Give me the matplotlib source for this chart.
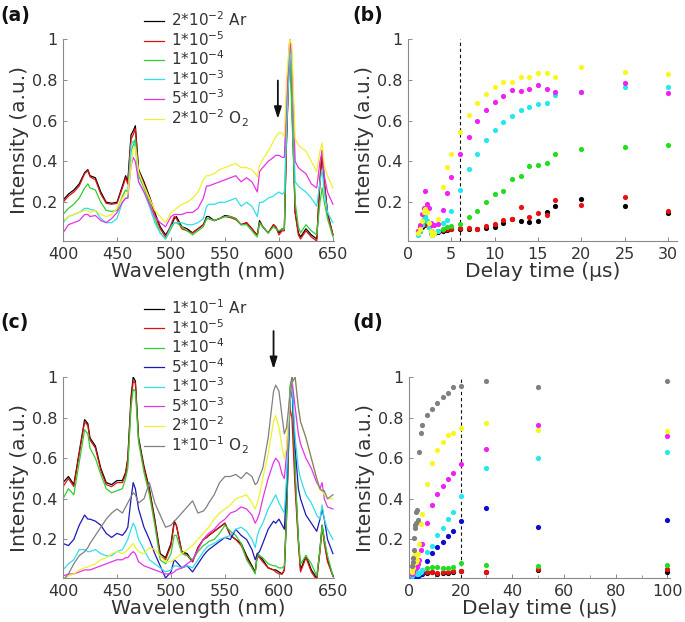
import matplotlib
matplotlib.use("Agg")
from matplotlib import pyplot as plt
from matplotlib.ticker import MultipleLocator

plt.rcParams['font.family'] = ['DejaVu Sans']
plt.rcParams['mathtext.default'] = 'regular'

# wavelength grid (nm) shared by the spectra
wl = [400, 405, 410, 415, 420, 423, 425, 430, 435, 440,
      445, 450, 455, 458, 460, 463, 465, 467, 470, 475,
      480, 485, 490, 495, 500, 503, 505, 510, 515, 520,
      525, 530, 533, 535, 540, 545, 550, 555, 560, 565,
      570, 575, 578, 580, 582, 585, 590, 595, 597, 600,
      603, 605, 607, 610, 612, 615, 618, 620, 625, 630,
      635, 638, 640, 642, 645, 650]

# panel (a) spectra
a_ar = [0.21, 0.24, 0.26, 0.29, 0.345, 0.36, 0.33, 0.32, 0.25, 0.20,
        0.195, 0.20, 0.28, 0.33, 0.30, 0.53, 0.55, 0.575, 0.36, 0.30,
        0.23, 0.15, 0.08, 0.04, 0.08, 0.12, 0.13, 0.08, 0.07, 0.05,
        0.07, 0.09, 0.13, 0.13, 0.11, 0.12, 0.135, 0.13, 0.12, 0.09,
        0.10, 0.07, 0.05, 0.04, 0.11, 0.08, 0.05, 0.09, 0.08, 0.05,
        0.07, 0.07, 0.50, 0.97, 0.70, 0.15, 0.05, 0.03, 0.07, 0.04,
        0.02, 0.30, 0.44, 0.30, 0.15, 0.04]
a_1e5 = [0.20, 0.23, 0.25, 0.28, 0.34, 0.355, 0.325, 0.31, 0.24, 0.195,
         0.19, 0.195, 0.27, 0.32, 0.29, 0.51, 0.53, 0.56, 0.35, 0.29,
         0.22, 0.14, 0.07, 0.03, 0.09, 0.13, 0.12, 0.07, 0.06, 0.05,
         0.07, 0.09, 0.12, 0.12, 0.11, 0.12, 0.13, 0.125, 0.115, 0.09,
         0.10, 0.07, 0.05, 0.04, 0.10, 0.08, 0.05, 0.09, 0.08, 0.04,
         0.06, 0.06, 0.50, 1.00, 0.72, 0.15, 0.04, 0.02, 0.06, 0.03,
         0.01, 0.32, 0.455, 0.30, 0.14, 0.04]
a_1e4 = [0.14, 0.17, 0.19, 0.22, 0.27, 0.29, 0.27, 0.26, 0.20, 0.16,
         0.155, 0.16, 0.23, 0.26, 0.25, 0.45, 0.48, 0.51, 0.33, 0.27,
         0.20, 0.12, 0.05, 0.02, 0.07, 0.10, 0.10, 0.08, 0.06, 0.04,
         0.06, 0.08, 0.12, 0.12, 0.11, 0.12, 0.13, 0.13, 0.12, 0.09,
         0.09, 0.06, 0.04, 0.03, 0.10, 0.08, 0.05, 0.08, 0.07, 0.06,
         0.07, 0.07, 0.60, 0.97, 0.62, 0.20, 0.08, 0.05, 0.09, 0.06,
         0.04, 0.20, 0.27, 0.20, 0.12, 0.03]
a_1e3 = [0.10, 0.13, 0.14, 0.15, 0.17, 0.17, 0.165, 0.16, 0.12, 0.10,
         0.10, 0.12, 0.20, 0.22, 0.22, 0.48, 0.50, 0.47, 0.30, 0.25,
         0.18, 0.10, 0.05, 0.02, 0.08, 0.10, 0.10, 0.10, 0.09, 0.09,
         0.10, 0.12, 0.18, 0.19, 0.19, 0.20, 0.20, 0.21, 0.22, 0.18,
         0.20, 0.18, 0.15, 0.13, 0.20, 0.20, 0.22, 0.23, 0.24, 0.25,
         0.24, 0.25, 0.55, 0.95, 0.85, 0.30, 0.28, 0.27, 0.25, 0.22,
         0.18, 0.30, 0.36, 0.25, 0.15, 0.10]
a_5e3 = [0.05, 0.09, 0.10, 0.11, 0.14, 0.14, 0.13, 0.135, 0.11, 0.10,
         0.12, 0.15, 0.20, 0.22, 0.22, 0.38, 0.42, 0.40, 0.30, 0.25,
         0.19, 0.13, 0.10, 0.08, 0.13, 0.14, 0.14, 0.14, 0.15, 0.15,
         0.17, 0.22, 0.28, 0.28, 0.29, 0.30, 0.31, 0.32, 0.33, 0.30,
         0.32, 0.30, 0.27, 0.25, 0.35, 0.37, 0.40, 0.42, 0.43, 0.43,
         0.42, 0.42, 0.70, 1.00, 0.92, 0.40, 0.37, 0.36, 0.34, 0.29,
         0.27, 0.40, 0.45, 0.33, 0.25, 0.19]
a_o2 = [0.11, 0.13, 0.14, 0.15, 0.16, 0.16, 0.15, 0.16, 0.14, 0.13,
        0.14, 0.17, 0.22, 0.24, 0.24, 0.38, 0.46, 0.47, 0.35, 0.28,
        0.22, 0.16, 0.13, 0.10, 0.15, 0.16, 0.17, 0.19, 0.20, 0.22,
        0.25, 0.31, 0.33, 0.33, 0.34, 0.36, 0.37, 0.38, 0.39, 0.37,
        0.37, 0.36, 0.34, 0.325, 0.38, 0.41, 0.45, 0.50, 0.52, 0.54,
        0.54, 0.52, 0.80, 1.00, 0.97, 0.51, 0.48, 0.47, 0.45, 0.40,
        0.35, 0.45, 0.49, 0.38, 0.33, 0.27]

# panel (c) spectra
c_ar = [0.48, 0.51, 0.47, 0.63, 0.79, 0.77, 0.70, 0.66, 0.55, 0.48,
        0.47, 0.49, 0.49, 0.53, 0.60, 0.90, 1.00, 0.98, 0.70, 0.56,
        0.45, 0.30, 0.13, 0.11, 0.18, 0.29, 0.27, 0.14, 0.13, 0.09,
        0.16, 0.20, 0.21, 0.22, 0.24, 0.26, 0.28, 0.22, 0.20, 0.18,
        0.12, 0.07, 0.04, 0.13, 0.12, 0.10, 0.06, 0.05, 0.05, 0.04,
        0.03, 0.05, 0.30, 0.85, 1.00, 0.50, 0.20, 0.05, 0.12, 0.05,
        0.01, 0.15, 0.27, 0.20, 0.10, 0.02]
c_1e5 = [0.46, 0.50, 0.46, 0.62, 0.78, 0.76, 0.69, 0.65, 0.54, 0.47,
         0.46, 0.48, 0.48, 0.52, 0.59, 0.88, 0.98, 0.97, 0.69, 0.55,
         0.44, 0.29, 0.12, 0.10, 0.17, 0.28, 0.27, 0.14, 0.12, 0.09,
         0.16, 0.20, 0.21, 0.22, 0.24, 0.26, 0.28, 0.22, 0.20, 0.17,
         0.11, 0.06, 0.04, 0.12, 0.11, 0.09, 0.06, 0.05, 0.04, 0.03,
         0.03, 0.05, 0.35, 0.85, 0.80, 0.45, 0.18, 0.04, 0.11, 0.04,
         0.00, 0.14, 0.26, 0.18, 0.09, 0.02]
c_1e4 = [0.40, 0.45, 0.42, 0.58, 0.74, 0.72, 0.65, 0.60, 0.52, 0.45,
         0.43, 0.44, 0.45, 0.50, 0.55, 0.85, 0.94, 0.93, 0.68, 0.53,
         0.42, 0.27, 0.10, 0.08, 0.13, 0.22, 0.22, 0.13, 0.12, 0.10,
         0.14, 0.17, 0.18, 0.19, 0.20, 0.23, 0.27, 0.24, 0.22, 0.18,
         0.10, 0.06, 0.03, 0.13, 0.12, 0.11, 0.08, 0.07, 0.07, 0.06,
         0.06, 0.07, 0.30, 0.95, 1.00, 0.55, 0.20, 0.08, 0.12, 0.08,
         0.02, 0.15, 0.27, 0.20, 0.12, 0.02]
c_5e4 = [0.18, 0.17, 0.20, 0.27, 0.32, 0.30, 0.30, 0.29, 0.27, 0.23,
         0.21, 0.23, 0.22, 0.24, 0.26, 0.40, 0.48, 0.45, 0.35, 0.26,
         0.20, 0.13, 0.07, 0.01, 0.04, 0.10, 0.09, 0.06, 0.07, 0.04,
         0.08, 0.12, 0.14, 0.15, 0.17, 0.19, 0.21, 0.20, 0.25, 0.22,
         0.20, 0.15, 0.10, 0.13, 0.14, 0.18, 0.25, 0.29, 0.28, 0.30,
         0.27, 0.25, 0.45, 0.85, 0.97, 0.65, 0.45, 0.40, 0.32, 0.28,
         0.24, 0.30, 0.35, 0.30, 0.20, 0.13]
c_1e3 = [0.05, 0.08, 0.10, 0.15, 0.15, 0.14, 0.14, 0.15, 0.13, 0.12,
         0.12, 0.14, 0.15, 0.18, 0.20, 0.25, 0.28, 0.26, 0.20, 0.15,
         0.10, 0.08, 0.06, 0.04, 0.05, 0.07, 0.07, 0.06, 0.07, 0.06,
         0.10, 0.14, 0.16, 0.17, 0.18, 0.20, 0.21, 0.22, 0.25, 0.26,
         0.24, 0.20, 0.16, 0.22, 0.25, 0.28, 0.35, 0.40, 0.42, 0.38,
         0.35, 0.33, 0.50, 0.85, 0.98, 0.70, 0.55, 0.50, 0.42, 0.38,
         0.32, 0.30, 0.37, 0.30, 0.25, 0.20]
c_5e3 = [0.02, 0.03, 0.03, 0.04, 0.05, 0.05, 0.05, 0.06, 0.07, 0.08,
         0.09, 0.10, 0.10, 0.11, 0.11, 0.13, 0.14, 0.13, 0.09, 0.07,
         0.06, 0.05, 0.04, 0.03, 0.03, 0.04, 0.05, 0.06, 0.08, 0.10,
         0.15, 0.20, 0.22, 0.23, 0.25, 0.28, 0.30, 0.33, 0.34, 0.36,
         0.35, 0.32, 0.28, 0.30, 0.33, 0.40, 0.50, 0.58, 0.60, 0.58,
         0.52, 0.50, 0.62, 0.90, 0.99, 0.85, 0.72, 0.67, 0.60, 0.55,
         0.48, 0.45, 0.48, 0.40, 0.36, 0.35]
c_2e2 = [0.00, 0.02, 0.03, 0.05, 0.06, 0.065, 0.07, 0.08, 0.10, 0.11,
         0.13, 0.14, 0.13, 0.14, 0.15, 0.17, 0.18, 0.16, 0.14, 0.13,
         0.16, 0.15, 0.12, 0.09, 0.09, 0.10, 0.11, 0.13, 0.15, 0.17,
         0.20, 0.23, 0.25, 0.26, 0.30, 0.33, 0.35, 0.37, 0.40, 0.41,
         0.42, 0.38, 0.35, 0.38, 0.42, 0.50, 0.62, 0.78, 0.81, 0.75,
         0.65, 0.60, 0.65, 0.90, 0.97, 1.00, 0.85, 0.78, 0.70, 0.60,
         0.50, 0.44, 0.44, 0.42, 0.40, 0.40]
c_o2 = [0.00, 0.03, 0.08, 0.12, 0.14, 0.16, 0.18, 0.22, 0.26, 0.30,
        0.33, 0.35, 0.33, 0.36, 0.38, 0.41, 0.43, 0.42, 0.38, 0.40,
        0.48, 0.38, 0.32, 0.26, 0.27, 0.29, 0.30, 0.33, 0.36, 0.39,
        0.33, 0.34, 0.36, 0.38, 0.42, 0.48, 0.51, 0.51, 0.52, 0.50,
        0.53, 0.51, 0.47, 0.48, 0.51, 0.55, 0.70, 0.93, 0.96, 0.93,
        0.80, 0.72, 0.75, 0.90, 0.97, 1.00, 0.85, 0.78, 0.70, 0.60,
        0.50, 0.45, 0.44, 0.44, 0.40, 0.42]

# panel (b) delay scans
tb = [1.2, 1.4, 1.6, 1.8, 2.0, 2.2, 2.4, 2.6, 2.8, 3.0, 3.5, 4, 4.5, 5,
      6, 7, 8, 9, 10, 11, 12, 13, 14, 15, 16, 17, 20, 25, 30]
b_ar = [0.05, 0.06, 0.08, 0.09, 0.10, 0.10, 0.09, 0.06, 0.05, 0.05, 0.055, 0.06, 0.065, 0.07,
        0.069, 0.07, 0.07, 0.072, 0.077, 0.097, 0.118, 0.11, 0.105, 0.107, 0.153, 0.18, 0.216, 0.18, 0.147]
b_1e5 = [0.06, 0.08, 0.09, 0.10, 0.10, 0.09, 0.08, 0.06, 0.05, 0.05, 0.06, 0.065, 0.07, 0.07,
         0.072, 0.072, 0.07, 0.083, 0.093, 0.113, 0.118, 0.175, 0.13, 0.147, 0.138, 0.213, 0.187, 0.225, 0.159]
b_1e4 = [0.05, 0.07, 0.10, 0.12, 0.13, 0.11, 0.08, 0.05, 0.04, 0.05, 0.06, 0.069, 0.077, 0.082,
         0.093, 0.126, 0.156, 0.203, 0.238, 0.254, 0.315, 0.328, 0.376, 0.384, 0.394, 0.435, 0.46, 0.471, 0.483]
b_1e3 = [0.04, 0.06, 0.09, 0.12, 0.13, 0.11, 0.08, 0.05, 0.04, 0.05, 0.06, 0.097, 0.113, 0.159,
         0.261, 0.361, 0.438, 0.504, 0.556, 0.594, 0.625, 0.652, 0.665, 0.68, 0.685, 0.726, 0.74, 0.763, 0.763]
b_5e3 = [0.06, 0.09, 0.14, 0.17, 0.257, 0.19, 0.172, 0.10, 0.09, 0.09, 0.093, 0.162, 0.246, 0.323,
         0.435, 0.52, 0.596, 0.652, 0.693, 0.721, 0.75, 0.747, 0.754, 0.773, 0.754, 0.742, 0.742, 0.785, 0.734]
b_o2 = [0.05, 0.07, 0.11, 0.15, 0.167, 0.15, 0.10, 0.06, 0.04, 0.05, 0.12, 0.274, 0.372, 0.438,
        0.545, 0.627, 0.688, 0.731, 0.767, 0.79, 0.79, 0.813, 0.813, 0.832, 0.832, 0.813, 0.865, 0.836, 0.829]

# panel (d) delay scans
td = [1.2, 1.4, 1.6, 1.8, 2.0, 2.2, 2.4, 2.6, 2.8, 3.0, 3.5, 4, 4.5, 5,
      7, 9, 11, 13, 15, 17, 20, 30, 50, 100]
d_ar = [0.02, 0.03, 0.03, 0.03, 0.03, 0.03, 0.03, 0.03, 0.03, 0.03, 0.03, 0.03, 0.03, 0.03,
        0.035, 0.038, 0.03, 0.035, 0.033, 0.04, 0.044, 0.04, 0.048, 0.041]
d_1e5 = [0.03, 0.03, 0.04, 0.04, 0.04, 0.04, 0.03, 0.03, 0.03, 0.03, 0.03, 0.03, 0.035, 0.035,
         0.039, 0.042, 0.034, 0.04, 0.04, 0.045, 0.047, 0.042, 0.052, 0.054]
d_1e4 = [0.03, 0.03, 0.04, 0.04, 0.04, 0.03, 0.03, 0.02, 0.02, 0.02, 0.02, 0.03, 0.04, 0.05,
         0.06, 0.063, 0.063, 0.06, 0.058, 0.063, 0.085, 0.076, 0.069, 0.074]
d_5e4 = [0.02, 0.02, 0.03, 0.03, 0.03, 0.03, 0.02, 0.02, 0.02, 0.02, 0.02, 0.025, 0.03, 0.04,
         0.096, 0.132, 0.162, 0.187, 0.216, 0.244, 0.289, 0.355, 0.259, 0.298]
d_1e3 = [0.02, 0.03, 0.04, 0.05, 0.05, 0.05, 0.04, 0.04, 0.035, 0.03, 0.03, 0.035, 0.04, 0.05,
         0.137, 0.17, 0.22, 0.258, 0.302, 0.335, 0.412, 0.552, 0.60, 0.631]
d_5e3 = [0.03, 0.04, 0.05, 0.06, 0.07, 0.075, 0.07, 0.065, 0.06, 0.065, 0.08, 0.10, 0.148, 0.178,
         0.28, 0.368, 0.426, 0.462, 0.5, 0.527, 0.57, 0.643, 0.766, 0.71]
d_2e2 = [0.04, 0.06, 0.08, 0.10, 0.12, 0.13, 0.12, 0.10, 0.09, 0.10, 0.13, 0.178, 0.277, 0.327,
         0.472, 0.574, 0.64, 0.68, 0.714, 0.722, 0.747, 0.771, 0.738, 0.733]
d_o2 = [0.07, 0.09, 0.107, 0.15, 0.208, 0.254, 0.27, 0.28, 0.336, 0.344, 0.298, 0.631, 0.725, 0.762,
        0.812, 0.842, 0.87, 0.9, 0.923, 0.949, 0.957, 0.98, 0.951, 0.98]

labels_a = ['2*10$^{-2}$ Ar', '1*10$^{-5}$', '1*10$^{-4}$', '1*10$^{-3}$',
            '5*10$^{-3}$', '2*10$^{-2}$ O$_2$']
labels_c = ['1*10$^{-1}$ Ar', '1*10$^{-5}$', '1*10$^{-4}$', '5*10$^{-4}$',
            '1*10$^{-3}$', '5*10$^{-3}$', '2*10$^{-2}$', '1*10$^{-1}$ O$_2$']

line_cols_a = ['#000000', '#e01010', '#33cc33', '#33dde8', '#e633e6', '#f0f030']
line_cols_c = ['#000000', '#e01010', '#33cc33', '#1a1ab8', '#33dde8', '#e633e6', '#f0f030', '#808080']
dot_cols_b = ['#000000', '#e81010', '#22dd22', '#22e8f0', '#f020f0', '#f8f820']
dot_cols_d = ['#000000', '#e81010', '#22dd22', '#0a0ad0', '#22e8f0', '#f020f0', '#f8f820', '#808080']

TXT = '#333333'
SPINE = '#8a8a8a'

fig = plt.figure(figsize=(6.85, 6.22), dpi=100)
ax_a = fig.add_axes([0.092, 0.6125, 0.3956, 0.3248])
ax_b = fig.add_axes([0.5956, 0.6125, 0.392, 0.3248])
ax_c = fig.add_axes([0.092, 0.0707, 0.3956, 0.3232])
ax_d = fig.add_axes([0.597, 0.0707, 0.381, 0.3232])


def style(ax):
    for s in ['top', 'right']:
        ax.spines[s].set_visible(False)
    for s in ['left', 'bottom']:
        ax.spines[s].set_color(SPINE)
        ax.spines[s].set_linewidth(0.8)
    ax.tick_params(direction='in', length=3, width=0.7, color=SPINE,
                   labelsize=11.5, labelcolor=TXT, pad=4)
    ax.tick_params(which='minor', direction='in', length=2, width=0.6, color=SPINE)
    ax.set_ylim(0.01, 1.0)
    ax.set_yticks([0.2, 0.4, 0.6, 0.8, 1.0])
    ax.set_yticklabels(['0.2', '0.4', '0.6', '0.8', '1'])
    ax.set_ylabel('Intensity (a.u.)', fontsize=14.5, color=TXT, labelpad=2)


# (a)
for ys, c, lab in zip([a_ar, a_1e5, a_1e4, a_1e3, a_5e3, a_o2], line_cols_a, labels_a):
    ax_a.plot(wl, ys, color=c, lw=0.9, label=lab)
style(ax_a)
ax_a.set_xlim(400, 651)
ax_a.set_xticks([400, 450, 500, 550, 600, 650])
ax_a.set_xlabel('Wavelength (nm)', fontsize=14.5, color=TXT, labelpad=0)
ax_a.annotate('', xy=(599, 0.595), xytext=(599, 0.81),
              arrowprops=dict(arrowstyle='-|>,head_width=0.22,head_length=0.7',
                              color='#111111', lw=1.3))
ax_a.legend(loc='upper left', bbox_to_anchor=(0.30, 1.14), frameon=False,
            fontsize=11, handlelength=1.3, handletextpad=0.45,
            labelspacing=0.05, borderpad=0, borderaxespad=0, labelcolor=TXT)

# (b)
for ys, c in zip([b_ar, b_1e5, b_1e4, b_1e3, b_5e3, b_o2], dot_cols_b):
    ax_b.scatter(tb, ys, s=14, color=c, linewidths=0, zorder=3)
style(ax_b)
ax_b.set_xlim(0, 31)
ax_b.set_xticks([0, 5, 10, 15, 20, 25, 30])
ax_b.axvline(6, color='#111111', ls=(0, (3, 2.5)), lw=0.8)
ax_b.set_xlabel('Delay time (µs)', fontsize=14.5, color=TXT, labelpad=0)

# (c)
for ys, c, lab in zip([c_ar, c_1e5, c_1e4, c_5e4, c_1e3, c_5e3, c_2e2, c_o2], line_cols_c, labels_c):
    ax_c.plot(wl, ys, color=c, lw=0.9, label=lab)
style(ax_c)
ax_c.set_xlim(400, 651)
ax_c.set_xticks([400, 450, 500, 550, 600, 650])
ax_c.set_xlabel('Wavelength (nm)', fontsize=14.5, color=TXT, labelpad=0)
ax_c.annotate('', xy=(595, 1.025), xytext=(595, 1.24), annotation_clip=False,
              arrowprops=dict(arrowstyle='-|>,head_width=0.22,head_length=0.7',
                              color='#111111', lw=1.3))
ax_c.legend(loc='upper left', bbox_to_anchor=(0.30, 1.39), frameon=False,
            fontsize=11, handlelength=1.3, handletextpad=0.45,
            labelspacing=0.05, borderpad=0, borderaxespad=0, labelcolor=TXT)

# (d)
for ys, c in zip([d_ar, d_1e5, d_1e4, d_5e4, d_1e3, d_5e3, d_2e2, d_o2], dot_cols_d):
    ax_d.scatter(td, ys, s=14, color=c, linewidths=0, zorder=3)
style(ax_d)
ax_d.set_xlim(0, 101)
ax_d.set_xticks([0, 20, 40, 60, 80, 100])
ax_d.xaxis.set_minor_locator(MultipleLocator(10))
ax_d.axvline(20, color='#111111', ls=(0, (3, 2.5)), lw=0.8)
ax_d.set_xlabel('Delay time (µs)', fontsize=14.5, color=TXT, labelpad=0)

for x, y, t in [(0.0, 0.99, '(a)'), (0.514, 0.99, '(b)'), (0.0, 0.497, '(c)'), (0.514, 0.497, '(d)')]:
    fig.text(x, y, t, fontsize=13.5, fontweight='bold', va='top', ha='left', color='#111111')

fig.savefig('out.png', dpi=100)
